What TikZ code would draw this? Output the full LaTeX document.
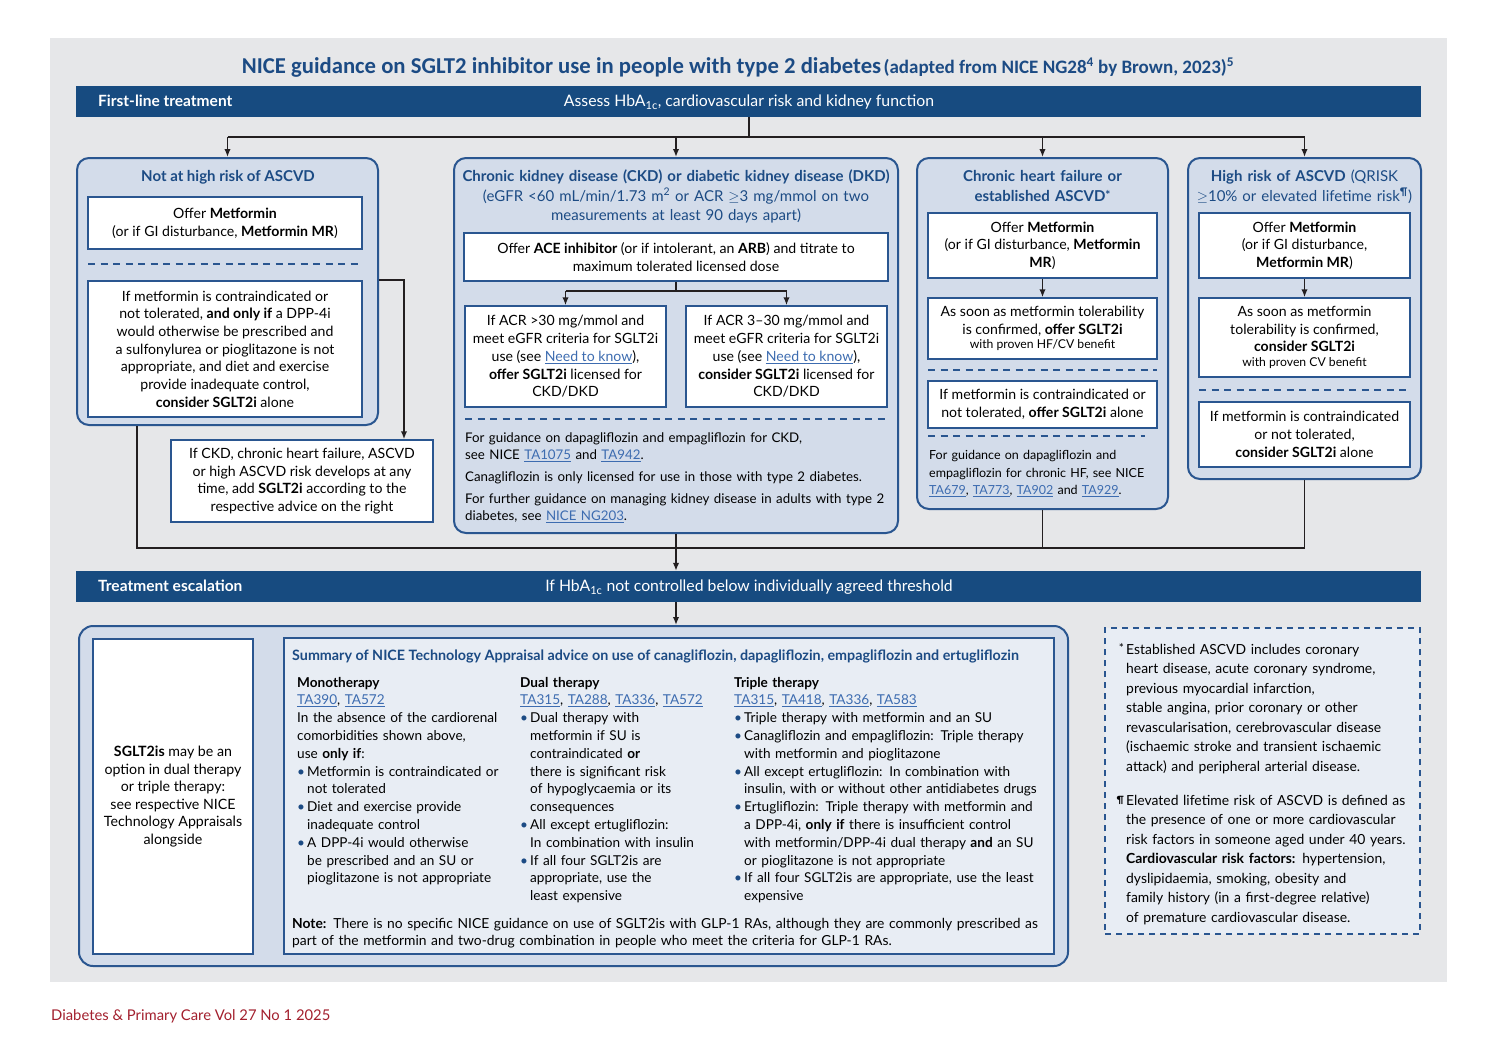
\documentclass[tikz,border=0pt]{standalone}
\usepackage{fontspec}
\setmainfont{Lato}
\newfontfamily\condfont{Carlito}
\usetikzlibrary{arrows.meta}
\definecolor{panel}{HTML}{E6E7E9}
\definecolor{barblue}{HTML}{174B80}
\definecolor{tblue}{HTML}{1C4B84}
\definecolor{bfill}{HTML}{D3DCEA}
\definecolor{bline}{HTML}{2A5690}
\definecolor{sfill}{HTML}{E8EDF4}
\definecolor{lblue}{HTML}{3D6CB0}
\definecolor{fred}{HTML}{A3202E}
\definecolor{cline}{HTML}{231F20}
\newcommand\lnk[1]{\textcolor{lblue}{\setbox0\hbox{#1}\rlap{\rule[-2.3pt]{\wd0}{0.8pt}}\box0}}
\newcommand\bul{\makebox[10pt][l]{\textcolor{tblue}{\textbullet}}}
\newcommand\ind{\hspace*{10pt}}
\newcommand\astk{\raisebox{1.5pt}{\fontsize{12}{12}\selectfont *}}
\newcommand\bx[7]{\node[#6, minimum width={(#4)-(#2)}, minimum height={(#5)-(#3)}] (#1) at ({((#2)+(#4))/2},{((#3)+(#5))/2}) {#7};}
\tikzset{
 body/.style={font=\fontsize{14.1}{17.7}\selectfont},
 sumtxt/.style={font=\fontsize{13.6}{17.8}\selectfont},
 small/.style={font=\fontsize{12.2}{12}\selectfont},
 wbox/.style={draw=bline, line width=1.5pt, fill=white, inner sep=0pt, align=center, body},
 obox/.style={draw=bline, line width=2pt, fill=bfill, rounded corners=12pt, inner sep=0pt},
 conn/.style={draw=cline, line width=1.6pt},
 arr/.style={-{Latex[length=8pt,width=6.5pt]}},
 sep/.style={draw=bline, line width=2pt, dash pattern=on 7pt off 5.5pt},
 lbl/.style={inner sep=0pt},
 btitle/.style={inner sep=0pt, text=tblue, font=\fontsize{15}{19.7}\selectfont\bfseries, align=center},
 bartxt/.style={inner sep=0pt, text=white, font=\fontsize{15.8}{17}\selectfont},
 barlbl/.style={inner sep=0pt, text=white, font=\fontsize{15.5}{17}\selectfont\bfseries},
}
\begin{document}
\begin{tikzpicture}[x=1pt,y=-1pt]
\useasboundingbox (0,0) rectangle (1497,1058);
\fill[white] (0,0) rectangle (1497,1058);
\fill[panel] (50,38) rectangle (1447,982);

% title
\node[lbl, anchor=base, text=tblue] (title) at (738,73) {{\condfont\bfseries\fontsize{22.7}{26}\selectfont NICE guidance on SGLT2 inhibitor use in people with type 2 diabetes} {\condfont\bfseries\fontsize{19}{22}\selectfont (adapted from NICE NG28\textsuperscript{4} by Brown, 2023)\textsuperscript{5}}};

% bar 1
\bx{bar1}{76}{86}{1421}{117}{fill=barblue}{}
\node[barlbl, anchor=base west] (bar1l) at (98,106.5) {First-line treatment};
\node[bartxt, anchor=base] (bar1t) at (749,106.5) {Assess HbA\textsubscript{1c}, cardiovascular risk and kidney function};

% box 1
\bx{b1}{77}{158}{378}{425}{obox}{}
\node[btitle, anchor=base] (b1t) at (228,181.5) {Not at high risk of ASCVD};
\bx{m1a}{88}{197}{362}{249}{wbox}{Offer \textbf{Metformin}\\(or if GI disturbance, \textbf{Metformin MR})}
\draw[sep] (88,264) -- (362,264);
\bx{m1b}{88}{281}{362}{417}{wbox}{If metformin is contraindicated or\\not tolerated, \textbf{and only if} a DPP-4i\\would otherwise be prescribed and\\a sulfonylurea or pioglitazone is not\\appropriate, and diet and exercise\\provide inadequate control,\\\textbf{consider SGLT2i} alone}
\bx{m1c}{171}{440}{433}{522}{wbox}{If CKD, chronic heart failure, ASCVD\\or high ASCVD risk develops at any\\time, add \textbf{SGLT2i} according to the\\respective advice on the right}
\coordinate (sidex) at (404,0);
\draw[conn,arr] (b1.east |- m1b.north) -| (sidex |- m1c.north);

% box 2
\bx{b2}{454}{158}{898}{533}{obox}{}
\node[btitle, anchor=base, text width=440] (b2t) at (676,181.5) {Chronic kidney disease (CKD) or diabetic kidney disease (DKD)\\\mdseries (eGFR <60 mL/min/1.73 m\textsuperscript{2} or ACR \ensuremath{\geq}3 mg/mmol on two\\measurements at least 90 days apart)};
\bx{ace}{464}{233}{888}{281}{wbox}{Offer \textbf{ACE inhibitor} (or if intolerant, an \textbf{ARB}) and titrate to\\maximum tolerated licensed dose}
\bx{ckA}{465}{306}{666}{407}{wbox}{If ACR >30 mg/mmol and\\meet eGFR criteria for SGLT2i\\use (see \lnk{Need to know}),\\\textbf{offer SGLT2i} licensed for\\CKD/DKD}
\bx{ckB}{686}{306}{887}{407}{wbox}{If ACR 3–30 mg/mmol and\\meet eGFR criteria for SGLT2i\\use (see \lnk{Need to know}),\\\textbf{consider SGLT2i} licensed for\\CKD/DKD}
\coordinate (jk) at (676,291);
\draw[conn] (ace.south) -- (ace.south |- jk);
\draw[conn] (ckA.north |- jk) -- (ckB.north |- jk);
\draw[conn,arr] (ckA.north |- jk) -- (ckA.north);
\draw[conn,arr] (ckB.north |- jk) -- (ckB.north);
\draw[sep] (465,419) -- (887,419);
\node[lbl, anchor=base west, text width=440, align=left, font=\fontsize{13.3}{17}\selectfont] (ckn) at (465,442) {For guidance on dapagliflozin and empagliflozin for CKD,\\see NICE \lnk{TA1075} and \lnk{TA942}.\\[5pt]Canagliflozin is only licensed for use in those with type 2 diabetes.\\[5pt]For further guidance on managing kidney disease in adults with type 2\\diabetes, see \lnk{NICE NG203}.};

% box 3
\bx{b3}{917}{158}{1168}{509}{obox}{}
\node[btitle, anchor=base, text width=245] (b3t) at (1042.5,181.5) {Chronic heart failure or\\established ASCVD\astk};
\bx{m3a}{928}{213}{1157}{278}{wbox}{Offer \textbf{Metformin}\\(or if GI disturbance, \textbf{Metformin}\\\textbf{MR})}
\bx{m3b}{928}{298}{1157}{359}{wbox}{As soon as metformin tolerability\\is confirmed, \textbf{offer SGLT2i}\\[-3pt]{\fontsize{12.2}{12}\selectfont with proven HF/CV benefit}}
\draw[conn,arr] (m3a.south) -- (m3b.north);
\draw[sep] (928,370) -- (1157,370);
\bx{m3c}{928}{381}{1157}{428}{wbox}{If metformin is contraindicated or\\not tolerated, \textbf{offer SGLT2i} alone}
\draw[sep] (928,436) -- (1145,436);
\node[lbl, anchor=base west, text width=240, align=left, font=\fontsize{12.5}{17.5}\selectfont] (hfn) at (929,459.5) {For guidance on dapagliflozin and\\empagliflozin for chronic HF, see NICE\\\lnk{TA679}, \lnk{TA773}, \lnk{TA902} and \lnk{TA929}.};

% box 4
\bx{b4}{1188}{158}{1421}{479}{obox}{}
\node[btitle, anchor=base, text width=240] (b4t) at (1304.5,181.5) {High risk of ASCVD \mdseries(QRISK\\\ensuremath{\geq}10\% or elevated lifetime risk\textsuperscript{\bfseries ¶})};
\bx{m4a}{1199}{213}{1410}{278}{wbox}{Offer \textbf{Metformin}\\(or if GI disturbance,\\\textbf{Metformin MR})}
\bx{m4b}{1199}{298}{1410}{377}{wbox}{As soon as metformin\\tolerability is confirmed,\\\textbf{consider SGLT2i}\\[-3pt]{\fontsize{12.2}{12}\selectfont with proven CV benefit}}
\draw[conn,arr] (m4a.south) -- (m4b.north);
\draw[sep] (1199,390) -- (1410,390);
\bx{m4c}{1199}{402}{1410}{467}{wbox}{If metformin is contraindicated\\or not tolerated,\\\textbf{consider SGLT2i} alone}

% top connectors
\coordinate (jtop) at (749,137);
\draw[conn] (bar1.south -| jtop) -- (jtop);
\draw[conn] (b1.north |- jtop) -- (b4.north |- jtop);
\draw[conn,arr] (b1.north |- jtop) -- (b1.north);
\draw[conn,arr] (b2.north |- jtop) -- (b2.north);
\draw[conn,arr] (b3.north |- jtop) -- (b3.north);
\draw[conn,arr] (b4.north |- jtop) -- (b4.north);

% collector
\bx{bar2}{76}{571}{1421}{602}{fill=barblue}{}
\node[barlbl, anchor=base west] (bar2l) at (98,591.5) {Treatment escalation};
\node[bartxt, anchor=base] (bar2t) at (749,591.5) {If HbA\textsubscript{1c} not controlled below individually agreed threshold};
\coordinate (jbot) at (0,548);
\coordinate (lx) at (137,0);
\draw[conn] (lx |- b1.south) -- (lx |- jbot) -- (b4.south |- jbot) -- (b4.south);
\draw[conn] (b3.south) -- (b3.south |- jbot);
\draw[conn,arr] (b2.south) -- (b2.south |- bar2.north);

% bottom section
\bx{bot}{79}{626}{1068}{966}{obox, rounded corners=14pt}{}
\draw[conn,arr] (b2.south |- bar2.south) -- (b2.south |- bot.north);
\bx{sg}{93}{639}{253}{954}{wbox, font=\fontsize{14.2}{17.6}\selectfont}{\textbf{SGLT2is} may be an\\option in dual therapy\\or triple therapy:\\see respective NICE\\Technology Appraisals\\alongside}
\bx{summ}{284}{638}{1054}{954}{draw=bline, line width=1.5pt, fill=sfill}{}
\node[lbl, anchor=base west, text=tblue, font=\fontsize{14.3}{16}\selectfont\bfseries] (sumt) at (292,660) {Summary of NICE Technology Appraisal advice on use of canagliflozin, dapagliflozin, empagliflozin and ertugliflozin};
\node[lbl, anchor=base west, text width=222, align=left, sumtxt] (mono) at (297,687) {\textbf{Monotherapy}\\\lnk{TA390}, \lnk{TA572}\\In the absence of the cardiorenal\\comorbidities shown above,\\use \textbf{only if}:\\\bul Metformin is contraindicated or\\\ind not tolerated\\\bul Diet and exercise provide\\\ind inadequate control\\\bul A DPP-4i would otherwise\\\ind be prescribed and an SU or\\\ind pioglitazone is not appropriate};
\node[lbl, anchor=base west, text width=212, align=left, sumtxt] (dual) at (520,687) {\textbf{Dual therapy}\\\lnk{TA315}, \lnk{TA288}, \lnk{TA336}, \lnk{TA572}\\\bul Dual therapy with\\\ind metformin if SU is\\\ind contraindicated \textbf{or}\\\ind there is significant risk\\\ind of hypoglycaemia or its\\\ind consequences\\\bul All except ertugliflozin:\\\ind In combination with insulin\\\bul If all four SGLT2is are\\\ind appropriate, use the\\\ind least expensive};
\node[lbl, anchor=base west, text width=318, align=left, sumtxt] (triple) at (734,687) {\textbf{Triple therapy}\\\lnk{TA315}, \lnk{TA418}, \lnk{TA336}, \lnk{TA583}\\\bul Triple therapy with metformin and an SU\\\bul Canagliflozin and empagliflozin: Triple therapy\\\ind with metformin and pioglitazone\\\bul All except ertugliflozin: In combination with\\\ind insulin, with or without other antidiabetes drugs\\\bul Ertugliflozin: Triple therapy with metformin and\\\ind a DPP-4i, \textbf{only if} there is insufficient control\\\ind with metformin/DPP-4i dual therapy \textbf{and} an SU\\\ind or pioglitazone is not appropriate\\\bul If all four SGLT2is are appropriate, use the least\\\ind expensive};
\node[lbl, anchor=base west, text width=765, align=left, font=\fontsize{13.85}{17.8}\selectfont] (note) at (292,928) {\textbf{Note:} There is no specific NICE guidance on use of SGLT2is with GLP-1 RAs, although they are commonly prescribed as\\part of the metformin and two-drug combination in people who meet the criteria for GLP-1 RAs.};

% footnotes
\bx{fn}{1105}{628}{1420}{934}{draw=bline, line width=1.8pt, dash pattern=on 6pt off 5pt, fill=sfill}{}
\node[lbl, anchor=base west, text width=300, align=left, font=\fontsize{13.9}{19.5}\selectfont] (fn1) at (1126,654) {\llap{\astk\,}Established ASCVD includes coronary\\heart disease, acute coronary syndrome,\\previous myocardial infarction,\\stable angina, prior coronary or other\\revascularisation, cerebrovascular disease\\(ischaemic stroke and transient ischaemic\\attack) and peripheral arterial disease.};
\node[lbl, anchor=base west, text width=300, align=left, font=\fontsize{13.9}{19.5}\selectfont] (fn2) at (1126,805) {\llap{\raisebox{2pt}{\fontsize{10}{10}\selectfont\bfseries ¶}\,}Elevated lifetime risk of ASCVD is defined as\\the presence of one or more cardiovascular\\risk factors in someone aged under 40 years.\\\textbf{Cardiovascular risk factors:} hypertension,\\dyslipidaemia, smoking, obesity and\\family history (in a first-degree relative)\\of premature cardiovascular disease.};

% footer
\node[lbl, anchor=base west, text=fred, font=\fontsize{14.8}{16}\selectfont] (foot) at (51,1020) {Diabetes \& Primary Care Vol 27 No 1 2025};
\end{tikzpicture}
\end{document}
